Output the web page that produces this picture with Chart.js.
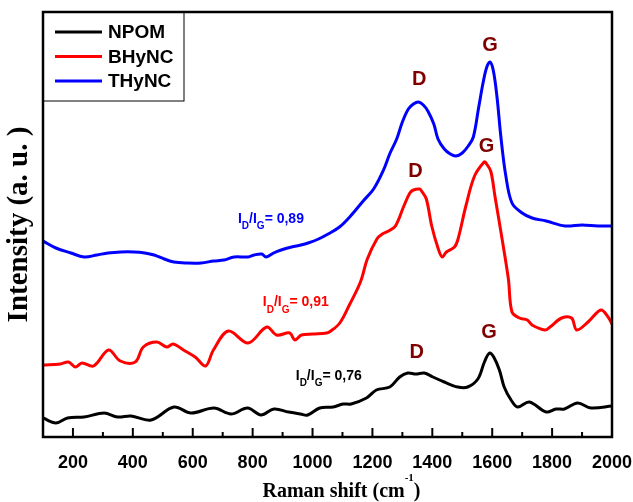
<!DOCTYPE html>
<html>
<head>
<meta charset="utf-8">
<script src="https://cdn.jsdelivr.net/npm/chart.js@4.4.1/dist/chart.umd.min.js"></script>
<style>
  html, body { margin: 0; padding: 0; background: #fff; }
  #ramanChart { display: block; }
</style>
</head>
<body>
<canvas id="ramanChart" width="633" height="502"></canvas>
<script>
// Raman spectra (intensity in arbitrary units, curves stacked with an offset)
const npomShift = [100, 143, 182, 237, 304, 349, 394, 461, 537, 594, 671, 728, 783, 828, 871, 920, 960, 984, 1024, 1069,
  1102, 1129, 1180, 1213, 1258, 1291, 1318, 1345, 1373, 1402, 1440, 1485, 1518, 1552, 1574, 1591, 1605, 1624, 1640, 1663,
  1685, 1724, 1780, 1813, 1841, 1885, 1930, 2000];
const npomIntensity = [19, 14, 19, 20, 24, 20, 21, 17, 30, 24, 29, 23, 29, 22, 28, 25, 23, 22, 29, 30,
  33, 33, 39, 47, 50, 60, 64, 63, 64, 60, 55, 50, 50, 58, 75, 84, 80, 67, 50, 37,
  30, 35, 25, 28, 28, 34, 29, 31];

const bhyncShift = [100, 158, 185, 208, 230, 269, 319, 358, 408, 435, 480, 513, 535, 569, 608, 643, 669, 719, 785, 847,
  880, 924, 941, 963, 1000, 1047, 1061, 1091, 1123, 1160, 1183, 1215, 1233, 1254, 1277, 1305, 1325, 1337, 1358, 1364,
  1380, 1398, 1420, 1433, 1447, 1474, 1486, 1512, 1541, 1573, 1579, 1595, 1609, 1633, 1654, 1666, 1691, 1717, 1733, 1776,
  1793, 1832, 1865, 1882, 1920, 1963, 1987, 2000];
const bhyncIntensity = [72, 73, 75, 70, 74, 71, 87, 76, 75, 90, 95, 90, 93, 87, 80, 71, 87, 106, 94, 110,
  102, 104, 97, 102, 103, 104, 106, 114, 132, 155, 178, 198, 203, 206, 211, 231, 244, 247, 248, 246,
  238, 211, 188, 180, 185, 190, 198, 231, 261, 275, 274, 266, 241, 198, 158, 125, 119, 117, 112, 107,
  110, 119, 119, 107, 115, 127, 120, 113];

const thyncShift = [100, 143, 193, 237, 280, 317, 360, 404, 440, 471, 505, 537, 580, 628, 670, 704, 738, 785, 805, 830,
  845, 870, 895, 930, 961, 985, 1020, 1052, 1090, 1127, 1172, 1204, 1237, 1259, 1281, 1300, 1320, 1337, 1354, 1370,
  1385, 1405, 1419, 1440, 1460, 1479, 1500, 1520, 1537, 1555, 1570, 1582, 1593, 1604, 1616, 1629, 1645, 1666, 1700, 1733,
  1780, 1843, 1900, 1953, 2000];
const thyncIntensity = [196, 189, 184, 180, 182, 184, 185, 185, 184, 182, 178, 175, 174, 174, 176, 177, 180, 180, 182, 183,
  180, 184, 187, 190, 192, 194, 198, 203, 210, 221, 237, 248, 267, 284, 298, 315, 328, 333, 335, 332,
  326, 313, 298, 288, 283, 281, 284, 291, 300, 330, 355, 370, 375, 366, 340, 300, 262, 234, 224, 219,
  216, 211, 212, 211, 211];

const majorTicks = [200, 400, 600, 800, 1000, 1200, 1400, 1600, 1800, 2000];
const minorTicks = [300, 500, 700, 900, 1100, 1300, 1500, 1700, 1900];

const seriesNames = ['NPOM', 'BHyNC', 'THyNC'];
const seriesColors = ['#000000', '#ff0000', '#0000ff'];

// D / G band labels and the intensity ratios written next to each spectrum
const bandLabels = [
  { text: 'D', x: 1348, y: 85 }, { text: 'G', x: 1589, y: 105 },
  { text: 'D', x: 1344, y: 266 }, { text: 'G', x: 1581, y: 291 },
  { text: 'D', x: 1356, y: 358 }, { text: 'G', x: 1593, y: 392 }
];
const ratioValues = ['0,76', '0,91', '0,89'];
const ratioAnchors = [{ x: 944, y: 57.5 }, { x: 834, y: 131 }, { x: 751, y: 214.5 }];

const SANS = '"Liberation Sans", Arial, sans-serif';
const SERIF = '"Liberation Serif", "Times New Roman", serif';

function toPoints(xs, ys) {
  return xs.map((x, i) => ({ x: x, y: ys[i] }));
}

const spectra = [
  toPoints(npomShift, npomIntensity),
  toPoints(bhyncShift, bhyncIntensity),
  toPoints(thyncShift, thyncIntensity)
];

const decorations = {
  id: 'decorations',
  afterDatasetsDraw(chart) {
    const { ctx, chartArea: a, scales: { x, y } } = chart;
    ctx.save();

    // inward ticks on the bottom axis
    ctx.strokeStyle = '#000';
    ctx.lineWidth = 2;
    const tick = (v, len) => {
      const px = x.getPixelForValue(v);
      ctx.beginPath();
      ctx.moveTo(px, a.bottom);
      ctx.lineTo(px, a.bottom - len);
      ctx.stroke();
    };
    majorTicks.forEach(v => tick(v, 9));
    minorTicks.forEach(v => tick(v, 5));

    // frame
    ctx.lineWidth = 2.5;
    ctx.strokeRect(a.left, a.top, a.width, a.height);

    // legend box
    ctx.lineWidth = 1;
    ctx.strokeRect(a.left, a.top, 141, 89);
    ctx.font = 'bold 19px ' + SANS;
    ctx.textBaseline = 'middle';
    ctx.textAlign = 'left';
    chart.data.datasets.forEach((ds, i) => {
      const ly = a.top + 20 + i * 24.5;
      ctx.strokeStyle = ds.borderColor;
      ctx.lineWidth = 3;
      ctx.beginPath();
      ctx.moveTo(a.left + 12, ly);
      ctx.lineTo(a.left + 59, ly);
      ctx.stroke();
      ctx.fillStyle = '#000';
      ctx.fillText(ds.label, a.left + 65, ly + 1);
    });

    // D and G band markers
    ctx.fillStyle = '#800000';
    ctx.font = 'bold 20px ' + SANS;
    ctx.textAlign = 'center';
    bandLabels.forEach(b => {
      ctx.fillText(b.text, x.getPixelForValue(b.x), y.getPixelForValue(b.y));
    });

    // I_D/I_G ratios
    ctx.textAlign = 'left';
    ctx.textBaseline = 'alphabetic';
    ratioAnchors.forEach((p, i) => {
      let px = x.getPixelForValue(p.x);
      const py = y.getPixelForValue(p.y);
      ctx.fillStyle = seriesColors[i];
      const part = (txt, size, dy) => {
        ctx.font = 'bold ' + size + 'px ' + SANS;
        ctx.fillText(txt, px, py + dy);
        px += ctx.measureText(txt).width;
      };
      part('I', 14, 0);
      part('D', 10, 6.5);
      part('/', 14, 0);
      part('I', 14, 0);
      part('G', 10, 6.5);
      part('= ' + ratioValues[i], 14, 0);
    });

    // x axis title with superscript
    ctx.fillStyle = '#000';
    const main = 'Raman shift (cm';
    ctx.font = 'bold 20px ' + SERIF;
    const w1 = ctx.measureText(main).width;
    ctx.font = 'bold 11px ' + SERIF;
    const w2 = ctx.measureText('-1').width;
    ctx.font = 'bold 20px ' + SERIF;
    const w3 = ctx.measureText(')').width;
    let tx = (a.left + a.right) / 2 + 14 - (w1 + w2 + w3) / 2;
    const ty = 497;
    ctx.fillText(main, tx, ty);
    tx += w1;
    ctx.font = 'bold 11px ' + SERIF;
    ctx.fillText('-1', tx, ty - 16);
    tx += w2;
    ctx.font = 'bold 20px ' + SERIF;
    ctx.fillText(')', tx, ty);

    ctx.restore();
  }
};

const data = {
  datasets: seriesNames.map((name, i) => ({
    label: name,
    data: spectra[i],
    borderColor: seriesColors[i],
    backgroundColor: seriesColors[i],
    borderWidth: 3,
    pointRadius: 0,
    tension: 0.35,
    fill: false
  }))
};

const config = {
  type: 'line',
  data: data,
  options: {
    responsive: false,
    animation: false,
    layout: { padding: { top: 12, right: 21, left: 0, bottom: 0 } },
    plugins: {
      legend: { display: false },
      tooltip: { enabled: false }
    },
    scales: {
      x: {
        type: 'linear',
        min: 100,
        max: 2000,
        afterBuildTicks: (scale) => {
          scale.ticks = majorTicks.map(v => ({ value: v }));
        },
        afterFit: (scale) => {
          scale.height = 65;
          scale.paddingLeft = 0;
          scale.paddingRight = 0;
        },
        grid: { display: false },
        border: { display: false },
        ticks: {
          color: '#000',
          padding: 7,
          maxRotation: 0,
          autoSkip: false,
          callback: (v) => String(v),
          font: { family: SANS, size: 18, weight: 'bold' }
        }
      },
      y: {
        min: 0,
        max: 425,
        afterFit: (scale) => { scale.width = 43; },
        grid: { display: false },
        border: { display: false },
        ticks: { display: false },
        title: {
          display: true,
          text: 'Intensity (a. u. )',
          color: '#000',
          padding: { top: 2, bottom: 0 },
          font: { family: SERIF, size: 29, weight: 'bold', lineHeight: 1.2 }
        }
      }
    }
  },
  plugins: [decorations]
};

const ramanChart = new Chart(document.getElementById('ramanChart'), config);
</script>
</body>
</html>
